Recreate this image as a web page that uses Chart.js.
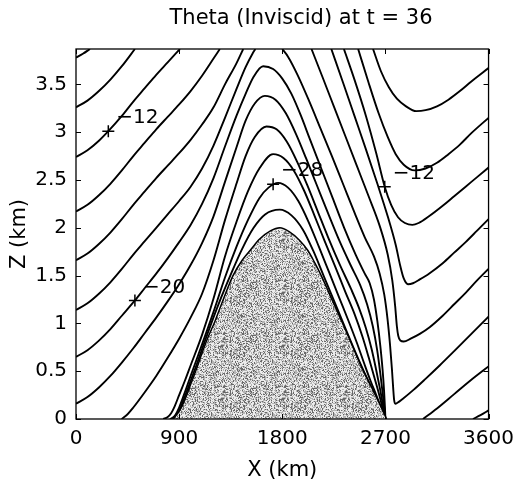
<!DOCTYPE html>
<html>
<head>
<meta charset="UTF-8">
<title>Theta (Inviscid) at t = 36</title>
<script src="https://cdn.jsdelivr.net/npm/chart.js"></script>
<style>
  html, body { margin: 0; padding: 0; background: #fff; }
</style>
</head>
<body>
<canvas id="thetaChart" width="522" height="485"></canvas>
<script>
// ticks
const xTicks = [0, 900, 1800, 2700, 3600];
const zTicks = [0, 0.5, 1, 1.5, 2, 2.5, 3, 3.5];

// terrain (km, km)
const mountain = [[848,0],[900,0.08],[950,0.2],[1000,0.36],[1050,0.52],[1100,0.69],[1150,0.85],[1212,1.02],[1285,1.25],[1370,1.5],[1450,1.66],[1531,1.78],[1600,1.88],[1700,1.97],[1778,2.0],[1860,1.96],[1950,1.87],[2025,1.76],[2085,1.63],[2140,1.5],[2215,1.3],[2290,1.1],[2360,0.91],[2417,0.75],[2470,0.6],[2520,0.47],[2580,0.33],[2640,0.18],[2680,0.08],[2710,0]];

// contours, upwind side
const lineL1 = [[0,3.78],[60,3.82],[122,3.87]];
const lineL2 = [[0,3.26],[100,3.33],[200,3.43],[300,3.55],[400,3.69],[514,3.87]];
const lineL3 = [[0,2.74],[100,2.81],[200,2.91],[282,3.01],[400,3.17],[500,3.32],[600,3.46],[700,3.6],[800,3.73],[907,3.87]];
const lineL4 = [[0,2.17],[100,2.24],[200,2.34],[300,2.46],[400,2.6],[500,2.75],[600,2.89],[700,3.03],[800,3.16],[900,3.29],[1000,3.43],[1100,3.59],[1200,3.77],[1255,3.87]];
const lineL5 = [[0,1.66],[100,1.73],[200,1.83],[300,1.95],[400,2.09],[500,2.24],[600,2.38],[700,2.52],[800,2.65],[900,2.78],[1000,2.92],[1100,3.08],[1200,3.26],[1300,3.5],[1400,3.72],[1459,3.87]];
const lineL6a = [[0,1.14],[100,1.21],[200,1.31],[300,1.43],[400,1.57],[500,1.72],[600,1.86],[700,2.0],[800,2.14],[900,2.28],[1000,2.43],[1100,2.62],[1200,2.86],[1300,3.15],[1400,3.45],[1480,3.68],[1540,3.82],[1565,3.87]];
// same line coming back in from the top, down to the V near the lee foot
const lineL6b = [[1800,3.87],[1850,3.79],[1933,3.6],[2033,3.33],[2133,3.04],[2233,2.75],[2333,2.45],[2433,2.15],[2520,1.9],[2600,1.7],[2650,1.52],[2690,1.3],[2718,1.05],[2740,0.78],[2757,0.52],[2768,0.32],[2776,0.2],[2786,0.16],[2805,0.17],[2850,0.21],[2950,0.31],[3050,0.42],[3173,0.56],[3300,0.71],[3450,0.89],[3600,1.07]];
const lineL7 = [[0,0.65],[100,0.72],[200,0.82],[300,0.94],[400,1.08],[514,1.24],[600,1.37],[700,1.52],[800,1.68],[900,1.85],[1000,2.03],[1100,2.25],[1200,2.52],[1300,2.85],[1400,3.17],[1480,3.4],[1550,3.58],[1633,3.69],[1720,3.66],[1800,3.56],[1880,3.4],[1960,3.18],[2040,2.93],[2140,2.62],[2240,2.31],[2340,2.0],[2440,1.72],[2520,1.52],[2563,1.42],[2600,1.25],[2630,1.02],[2655,0.77],[2675,0.52],[2688,0.3],[2696,0.12],[2700,0]];
const lineL8 = [[0,0.16],[100,0.23],[200,0.33],[300,0.45],[400,0.59],[500,0.74],[600,0.9],[700,1.06],[800,1.23],[900,1.41],[1000,1.61],[1100,1.84],[1200,2.12],[1300,2.48],[1400,2.84],[1480,3.12],[1560,3.3],[1648,3.38],[1740,3.34],[1830,3.2],[1920,2.98],[2010,2.72],[2100,2.45],[2200,2.15],[2300,1.86],[2400,1.6],[2480,1.4],[2540,1.2],[2590,0.97],[2628,0.72],[2655,0.48],[2676,0.27],[2692,0.1],[2700,0]];
const lineB1 = [[398,0],[450,0.05],[500,0.12],[600,0.28],[700,0.45],[800,0.64],[900,0.84],[1000,1.06],[1100,1.31],[1200,1.66],[1300,2.08],[1400,2.46],[1480,2.75],[1560,2.95],[1662,3.06],[1750,3.03],[1840,2.9],[1930,2.69],[2020,2.44],[2110,2.17],[2200,1.9],[2300,1.62],[2400,1.36],[2470,1.16],[2530,0.95],[2580,0.73],[2620,0.51],[2652,0.32],[2680,0.14],[2700,0]];
const lineB2 = [[761,0],[800,0.02],[830,0.06],[860,0.13],[900,0.25],[950,0.4],[1000,0.56],[1100,0.88],[1200,1.26],[1300,1.7],[1400,2.06],[1500,2.38],[1600,2.62],[1720,2.77],[1810,2.73],[1900,2.6],[1990,2.39],[2080,2.13],[2170,1.86],[2260,1.6],[2350,1.33],[2430,1.1],[2500,0.86],[2555,0.64],[2600,0.45],[2640,0.28],[2672,0.13],[2700,0]];
const lineB3 = [[820,0],[860,0.03],[900,0.12],[950,0.28],[1000,0.45],[1100,0.78],[1200,1.12],[1300,1.48],[1400,1.8],[1500,2.08],[1600,2.31],[1680,2.42],[1764,2.47],[1850,2.42],[1940,2.28],[2030,2.06],[2120,1.8],[2210,1.53],[2300,1.26],[2380,1.02],[2450,0.8],[2515,0.58],[2570,0.4],[2620,0.25],[2665,0.11],[2700,0]];
const lineB4 = [[840,0],[880,0.04],[920,0.14],[970,0.3],[1050,0.56],[1150,0.9],[1250,1.22],[1350,1.51],[1450,1.78],[1550,2.0],[1650,2.14],[1778,2.19],[1880,2.13],[1980,1.98],[2070,1.76],[2160,1.5],[2250,1.24],[2340,0.98],[2420,0.75],[2500,0.53],[2570,0.35],[2630,0.2],[2670,0.09],[2700,0]];

// lee side lines entering from the top and through the troughs
const lineR1 = [[2592,3.87],[2660,3.64],[2730,3.47],[2800,3.35],[2880,3.27],[2970,3.22],[3050,3.23],[3150,3.27],[3250,3.34],[3350,3.43],[3450,3.53],[3600,3.67]];
const lineR2 = [[2462,3.87],[2550,3.53],[2640,3.2],[2720,2.95],[2790,2.77],[2860,2.66],[2955,2.6],[3050,2.62],[3150,2.68],[3250,2.77],[3350,2.87],[3450,2.99],[3600,3.15]];
const lineR3 = [[2338,3.87],[2430,3.55],[2530,3.17],[2620,2.78],[2694,2.43],[2750,2.24],[2810,2.11],[2870,2.05],[2935,2.03],[2990,2.05],[3080,2.12],[3200,2.23],[3300,2.33],[3400,2.43],[3500,2.53],[3600,2.63]];
const lineR4 = [[2228,3.87],[2330,3.52],[2430,3.17],[2530,2.82],[2630,2.46],[2720,2.12],[2790,1.82],[2830,1.6],[2860,1.47],[2897,1.41],[2940,1.42],[3000,1.46],[3080,1.52],[3200,1.63],[3300,1.74],[3400,1.85],[3500,1.97],[3600,2.09]];
const lineR5 = [[2055,3.87],[2150,3.58],[2250,3.27],[2350,2.96],[2450,2.65],[2550,2.34],[2650,2.02],[2720,1.72],[2760,1.45],[2785,1.18],[2800,0.97],[2812,0.87],[2830,0.82],[2860,0.81],[2920,0.84],[3000,0.89],[3086,0.96],[3200,1.08],[3300,1.2],[3400,1.32],[3500,1.45],[3600,1.57]];
const lineR7 = [[3028,0],[3150,0.11],[3300,0.26],[3450,0.41],[3600,0.55]];
const lineR8 = [[3464,0],[3530,0.04],[3600,0.09]];

const contourLines = [lineL1, lineL2, lineL3, lineL4, lineL5, lineL6a, lineL6b, lineL7, lineL8,
  lineB1, lineB2, lineB3, lineB4, lineR1, lineR2, lineR3, lineR4, lineR5, lineR7, lineR8];

// clabel markers and their text
const labelX = [282, 514, 1720, 2694];
const labelZ = [3.01, 1.24, 2.455, 2.43];
const labelText = ['\u221212', '\u221220', '\u221228', '\u221212'];

const FONT = 'DejaVu Sans';

function toPts(arr) { return arr.map(p => ({x: p[0], y: p[1]})); }

// grey stipple for the mountain
function stipplePattern() {
    const c = document.createElement('canvas');
    c.width = 61; c.height = 53;
    const g = c.getContext('2d');
    const img = g.createImageData(c.width, c.height);
    let seed = 918273;
    for (let i = 0; i < c.width * c.height; i++) {
        seed = (seed * 1103515245 + 12345) & 0x7fffffff;
        const r = seed / 0x7fffffff;
        const v = r < 0.22 ? 105 : (r < 0.58 ? 180 : 236);
        img.data[i * 4] = v; img.data[i * 4 + 1] = v; img.data[i * 4 + 2] = v; img.data[i * 4 + 3] = 255;
    }
    g.putImageData(img, 0, 0);
    return document.getElementById('thetaChart').getContext('2d').createPattern(c, 'repeat');
}

const datasets = [];
datasets.push({
    data: toPts(mountain),
    showLine: true,
    fill: 'origin',
    backgroundColor: stipplePattern(),
    borderColor: '#000',
    borderWidth: 1.5,
    pointRadius: 0,
    cubicInterpolationMode: 'monotone'
});
contourLines.forEach(l => {
    datasets.push({
        data: toPts(l),
        showLine: true,
        fill: false,
        borderColor: '#000',
        borderWidth: 1.9,
        pointRadius: 0,
        cubicInterpolationMode: 'monotone'
    });
});
datasets.push({
    data: labelX.map((x, i) => ({x: x, y: labelZ[i]})),
    showLine: false,
    pointStyle: 'cross',
    pointRadius: 6,
    borderColor: '#000',
    borderWidth: 1.5,
    clip: false
});

// box, inward ticks, title and contour labels
const framePlugin = {
    id: 'frame',
    afterDatasetsDraw(chart) {
        const {ctx, chartArea: a, scales} = chart;
        ctx.save();
        ctx.strokeStyle = '#000';
        ctx.lineWidth = 1.3;
        ctx.strokeRect(a.left, a.top, a.right - a.left, a.bottom - a.top);
        ctx.lineWidth = 1;
        ctx.beginPath();
        xTicks.forEach(v => {
            const px = Math.round(scales.x.getPixelForValue(v)) + 0.5;
            ctx.moveTo(px, a.bottom); ctx.lineTo(px, a.bottom - 5);
            ctx.moveTo(px, a.top); ctx.lineTo(px, a.top + 5);
        });
        zTicks.forEach(v => {
            const py = Math.round(scales.y.getPixelForValue(v)) + 0.5;
            ctx.moveTo(a.left, py); ctx.lineTo(a.left + 5, py);
            ctx.moveTo(a.right, py); ctx.lineTo(a.right - 5, py);
        });
        ctx.stroke();

        ctx.fillStyle = '#000';
        ctx.font = '20px "' + FONT + '"';
        ctx.textAlign = 'left';
        ctx.textBaseline = 'middle';
        labelX.forEach((x, i) => {
            const px = scales.x.getPixelForValue(x);
            const py = scales.y.getPixelForValue(labelZ[i]);
            ctx.fillText(labelText[i], px + 8, py - 13);
        });

        ctx.font = '21px "' + FONT + '"';
        ctx.textAlign = 'center';
        ctx.fillText('Theta (Inviscid) at t = 36', 301, 19);
        ctx.restore();
    }
};

new Chart(document.getElementById('thetaChart'), {
    type: 'scatter',
    data: {datasets: datasets},
    options: {
        responsive: false,
        animation: false,
        devicePixelRatio: 1,
        layout: {padding: {top: 49, right: 33, left: 0, bottom: 0}},
        plugins: {legend: {display: false}, tooltip: {enabled: false}, title: {display: false}},
        scales: {
            x: {
                type: 'linear', min: 0, max: 3600,
                afterBuildTicks: s => { s.ticks = xTicks.map(v => ({value: v})); },
                afterFit: s => { s.height = 66; },
                grid: {display: false, drawTicks: false, tickLength: 0},
                border: {display: false},
                ticks: {color: '#000', padding: 8, maxRotation: 0, font: {family: FONT, size: 20}, callback: v => String(v)},
                title: {display: true, text: 'X (km)', color: '#000', padding: {top: 0, bottom: 4}, font: {family: FONT, size: 21, lineHeight: 1}}
            },
            y: {
                type: 'linear', min: 0, max: 3.87,
                afterBuildTicks: s => { s.ticks = zTicks.map(v => ({value: v})); },
                afterFit: s => { s.width = 76; },
                grid: {display: false, drawTicks: false, tickLength: 0},
                border: {display: false},
                ticks: {color: '#000', padding: 9, font: {family: FONT, size: 20}, callback: v => String(v)},
                title: {display: true, text: 'Z (km)', color: '#000', padding: {top: 9, bottom: 0}, font: {family: FONT, size: 21, lineHeight: 1}}
            }
        }
    },
    plugins: [framePlugin]
});
</script>
</body>
</html>
